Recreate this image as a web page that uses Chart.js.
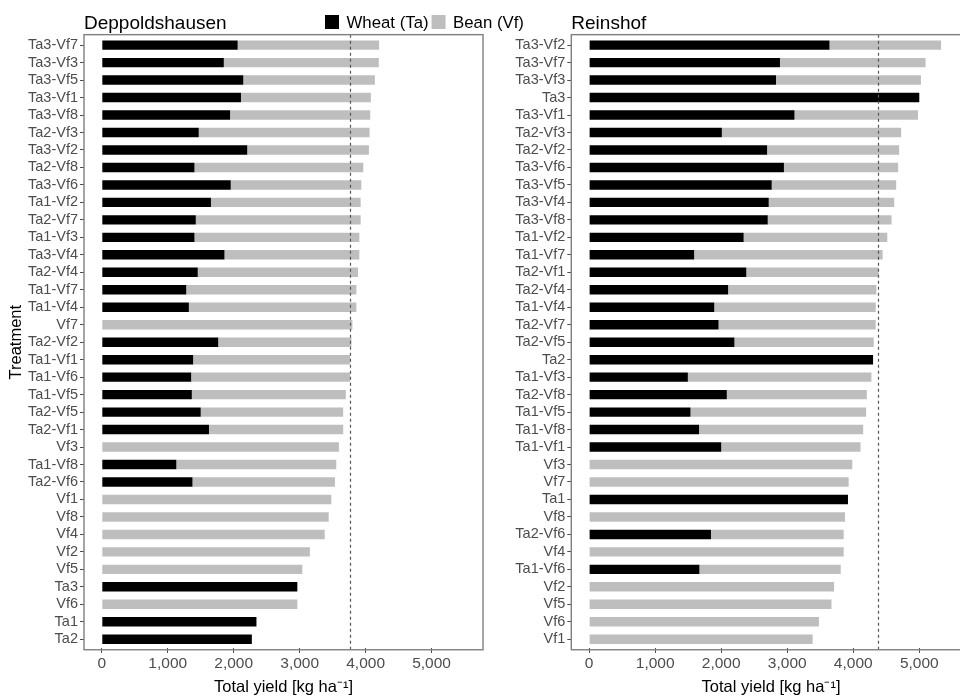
<!DOCTYPE html>
<html>
<head>
<meta charset="utf-8">
<script src="https://cdn.jsdelivr.net/npm/chart.js@4.4.1/dist/chart.umd.min.js"></script>
<style>
  html, body { margin: 0; padding: 0; background: #fff; overflow: hidden; width: 960px; height: 698px; }
  canvas { position: absolute; top: 0; }
  #left { left: 0; }
  #right { left: 490px; }
</style>
</head>
<body>
<canvas id="left" width="540" height="698"></canvas>
<canvas id="right" width="490" height="698"></canvas>
<script>
const FONT = "'Liberation Sans', Arial, Helvetica, sans-serif";
const WHEAT_COLOR = '#000000';
const BEAN_COLOR = '#bebebe';

// Deppoldshausen: treatments sorted by total yield (kg/ha)
const deppoldCategories = ['Ta3-Vf7','Ta3-Vf3','Ta3-Vf5','Ta3-Vf1','Ta3-Vf8','Ta2-Vf3','Ta3-Vf2','Ta2-Vf8','Ta3-Vf6','Ta1-Vf2','Ta2-Vf7','Ta1-Vf3','Ta3-Vf4','Ta2-Vf4','Ta1-Vf7','Ta1-Vf4','Vf7','Ta2-Vf2','Ta1-Vf1','Ta1-Vf6','Ta1-Vf5','Ta2-Vf5','Ta2-Vf1','Vf3','Ta1-Vf8','Ta2-Vf6','Vf1','Vf8','Vf4','Vf2','Vf5','Ta3','Vf6','Ta1','Ta2'];
const deppoldWheat = [2060,1850,2145,2110,1945,1470,2205,1405,1955,1655,1425,1405,1860,1455,1280,1320,0,1765,1385,1355,1365,1500,1625,0,1130,1375,0,0,0,0,0,2965,0,2345,2275];
const deppoldBean  = [2145,2350,1995,1970,2125,2590,1845,2560,1980,2270,2500,2500,2045,2430,2580,2540,3800,2020,2380,2410,2335,2160,2035,3595,2425,2160,3480,3440,3380,3155,3040,0,2965,0,0];
const deppoldMean = 3760;

// Reinshof: treatments sorted by total yield (kg/ha)
const reinshofCategories = ['Ta3-Vf2','Ta3-Vf7','Ta3-Vf3','Ta3','Ta3-Vf1','Ta2-Vf3','Ta2-Vf2','Ta3-Vf6','Ta3-Vf5','Ta3-Vf4','Ta3-Vf8','Ta1-Vf2','Ta1-Vf7','Ta2-Vf1','Ta2-Vf4','Ta1-Vf4','Ta2-Vf7','Ta2-Vf5','Ta2','Ta1-Vf3','Ta2-Vf8','Ta1-Vf5','Ta1-Vf8','Ta1-Vf1','Vf3','Vf7','Ta1','Vf8','Ta2-Vf6','Vf4','Ta1-Vf6','Vf2','Vf5','Vf6','Vf1'];
const reinshofWheat = [3640,2890,2830,5000,3110,2010,2695,2950,2765,2720,2705,2340,1590,2380,2105,1895,1960,2200,4300,1495,2085,1535,1665,2000,0,0,3920,0,1845,0,1670,0,0,0,0];
const reinshofBean  = [1690,2205,2195,0,1870,2715,2000,1730,1885,1900,1875,2175,2855,2005,2245,2445,2380,2110,0,2780,2120,2660,2485,2110,3985,3930,0,3875,2010,3855,2140,3710,3670,3480,3385];
const reinshofMean = 4380;

const yieldTicks = [0, 1000, 2000, 3000, 4000, 5000];
const xMin = -270, xMax = 5780;

// Panel frame, mean line, panel title and (optionally) the shared legend
const panelDecor = {
  id: 'panelDecor',
  afterDatasetsDraw(chart, args, opts) {
    const { ctx, chartArea, scales: { x, y } } = chart;
    const n = chart.data.labels.length;
    const step = y.getPixelForValue(1) - y.getPixelForValue(0);
    const top = y.getPixelForValue(0) - 0.6 * step;
    const bottom = y.getPixelForValue(n - 1) + 0.6 * step;
    ctx.save();
    // mean total yield
    const rx = Math.round(x.getPixelForValue(opts.refValue)) + 0.5;
    ctx.strokeStyle = '#555555';
    ctx.lineWidth = 1.2;
    ctx.setLineDash([3, 3]);
    ctx.beginPath();
    ctx.moveTo(rx, top);
    ctx.lineTo(rx, bottom);
    ctx.stroke();
    ctx.setLineDash([]);
    // frame
    ctx.strokeStyle = '#7f7f7f';
    ctx.lineWidth = 1.4;
    ctx.strokeRect(chartArea.left, top, chartArea.right - chartArea.left, bottom - top);
    // title
    ctx.fillStyle = '#000';
    ctx.font = `19px ${FONT}`;
    ctx.textAlign = 'left';
    ctx.textBaseline = 'alphabetic';
    ctx.fillText(opts.title, chartArea.left, 29);
    // legend
    if (opts.legend) {
      let lx = opts.legend.x;
      const ly = opts.legend.y;
      ctx.font = `16.8px ${FONT}`;
      ctx.textBaseline = 'middle';
      chart.data.datasets.forEach(ds => {
        ctx.fillStyle = ds.backgroundColor;
        ctx.fillRect(lx, ly - 7, 14, 14);
        lx += 21.5;
        ctx.fillStyle = '#000';
        ctx.fillText(ds.label, lx, ly + 1);
        lx += ctx.measureText(ds.label).width + 3;
      });
    }
    ctx.restore();
  }
};

function makePanel(canvasId, cfg) {
  return new Chart(document.getElementById(canvasId), {
    type: 'bar',
    data: {
      labels: cfg.categories,
      datasets: [
        { label: 'Wheat (Ta)', data: cfg.wheat, backgroundColor: WHEAT_COLOR, borderWidth: 0,
          barPercentage: 0.54, categoryPercentage: 1.0 },
        { label: 'Bean (Vf)', data: cfg.bean, backgroundColor: BEAN_COLOR, borderWidth: 0,
          barPercentage: 0.54, categoryPercentage: 1.0 }
      ]
    },
    options: {
      indexAxis: 'y',
      responsive: false,
      animation: false,
      devicePixelRatio: 1,
      layout: { padding: { top: 36.4, bottom: 0, left: cfg.padLeft, right: cfg.padRight } },
      scales: {
        x: {
          type: 'linear',
          stacked: true,
          min: xMin,
          max: xMax,
          afterBuildTicks: s => { s.ticks = yieldTicks.map(v => ({ value: v })); },
          afterFit: s => { s.height = 698 - 648.0; },
          border: { display: false },
          grid: { drawOnChartArea: false, drawTicks: true, tickLength: 5, color: '#4d4d4d', lineWidth: 1 },
          ticks: {
            color: '#4d4d4d',
            font: { family: FONT, size: 15.5 },
            padding: 1,
            maxRotation: 0,
            callback: v => v.toLocaleString('en-US')
          },
          title: {
            display: true,
            text: 'Total yield [kg ha⁻¹]',
            color: '#000',
            font: { family: FONT, size: 16.5 },
            padding: { top: 0, bottom: 1 }
          }
        },
        y: {
          type: 'category',
          stacked: true,
          offset: true,
          afterFit: s => { s.width = cfg.axisWidth; },
          border: { display: false },
          grid: { drawOnChartArea: false, drawTicks: true, offset: false, tickLength: 4, color: '#4d4d4d', lineWidth: 1 },
          ticks: {
            color: '#4d4d4d',
            font: { family: FONT, size: 14.5 },
            padding: 2,
            autoSkip: false
          },
          title: {
            display: cfg.showYTitle,
            text: 'Treatment',
            color: '#000',
            font: { family: FONT, size: 16.5 },
            padding: { top: 6.5, bottom: 0 }
          }
        }
      },
      plugins: {
        legend: { display: false },
        tooltip: { enabled: false },
        panelDecor: { title: cfg.title, refValue: cfg.mean, legend: cfg.legend }
      }
    },
    plugins: [panelDecor]
  });
}

makePanel('left', {
  categories: deppoldCategories, wheat: deppoldWheat, bean: deppoldBean, mean: deppoldMean,
  title: 'Deppoldshausen', padLeft: 0, padRight: 57, axisWidth: 84, showYTitle: true,
  legend: { x: 325, y: 22 }
});

makePanel('right', {
  categories: reinshofCategories, wheat: reinshofWheat, bean: reinshofBean, mean: reinshofMean,
  title: 'Reinshof', padLeft: 0, padRight: 9.2, axisWidth: 81.3, showYTitle: false,
  legend: null
});
</script>
</body>
</html>
